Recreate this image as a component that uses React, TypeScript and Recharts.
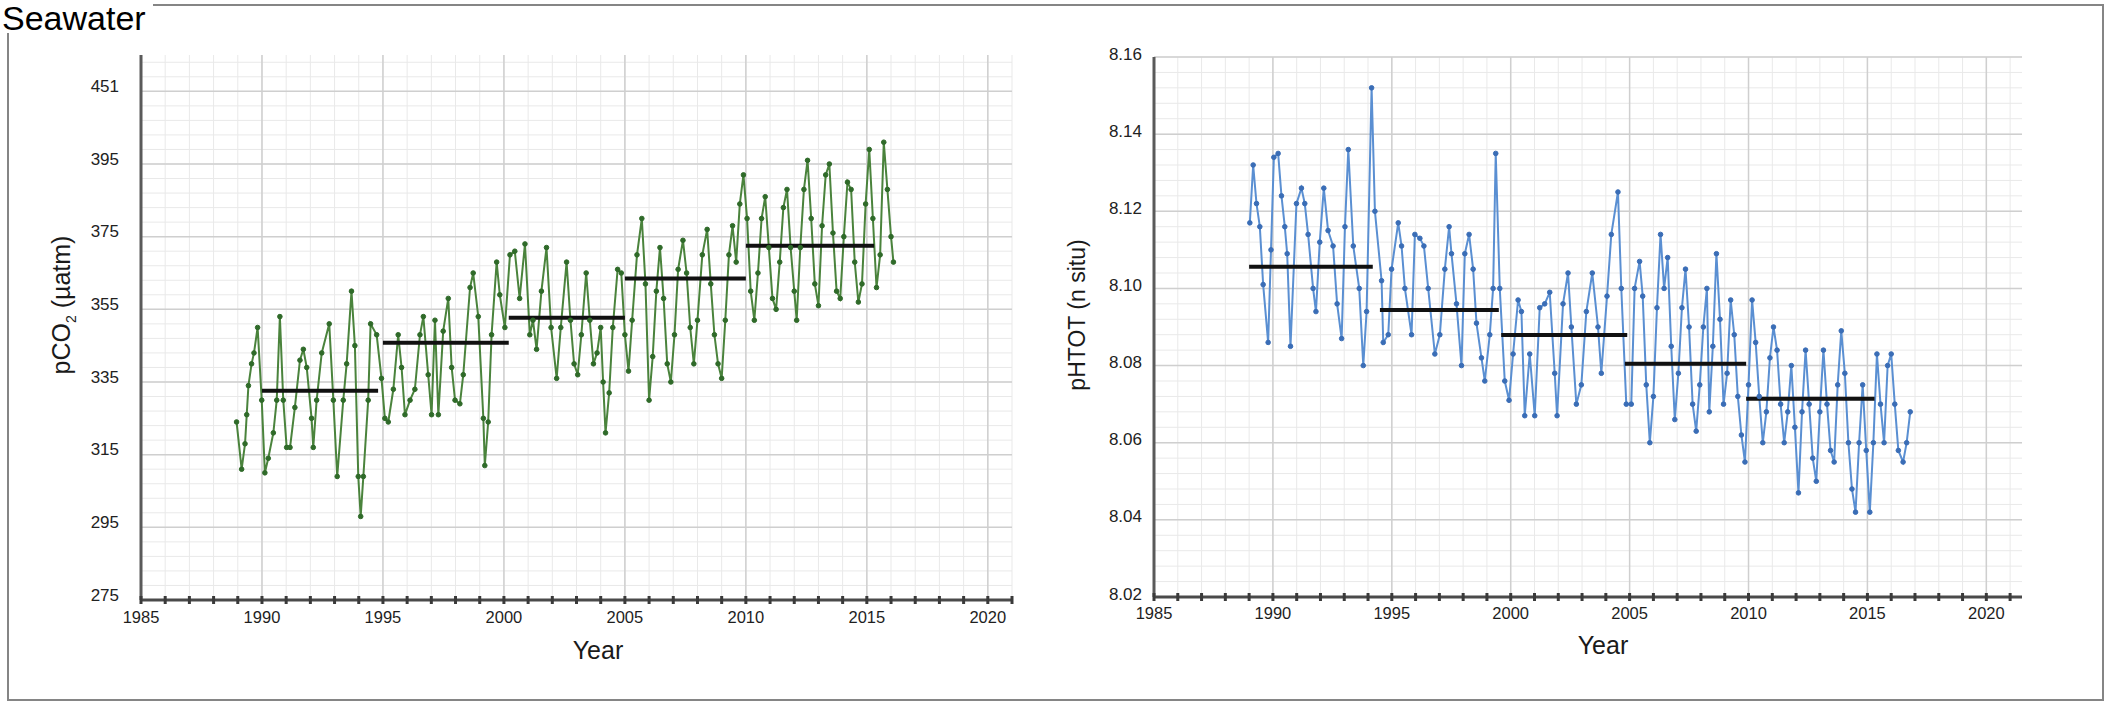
import { LineChart, Line, XAxis, YAxis, CartesianGrid } from "recharts";

// year ticks (every year) and the labelled ones
const yearTicks = Array.from({ length: 37 }, (_, i) => 1985 + i);
const yearLabels = [1985, 1990, 1995, 2000, 2005, 2010, 2015, 2020];

// pCO2 axis: the top tick is printed "451" in the source figure
const pco2Ticks = [275, 295, 315, 335, 355, 375, 395, 415];
const pco2TickLabels = ["275", "295", "315", "335", "355", "375", "395", "451"];
const pco2Minor = Array.from({ length: 38 }, (_, i) => 275 + i * 4);

const phTicks = [8.02, 8.04, 8.06, 8.08, 8.1, 8.12, 8.14, 8.16];
const phTickLabels = ["8.02", "8.04", "8.06", "8.08", "8.10", "8.12", "8.14", "8.16"];
const phMinor = Array.from({ length: 36 }, (_, i) => +(8.02 + i * 0.004).toFixed(3));

// [year, pCO2 µatm]
const pco2Series: [number, number][] = [
  [1988.95, 324], [1989.16, 311], [1989.3, 318], [1989.37, 326], [1989.44, 334], [1989.57, 340],
  [1989.67, 343], [1989.82, 350], [1989.99, 330], [1990.12, 310], [1990.26, 314], [1990.47, 321],
  [1990.61, 330], [1990.74, 353], [1990.88, 330], [1991.02, 317], [1991.16, 317], [1991.36, 328],
  [1991.57, 341], [1991.71, 344], [1991.85, 339], [1992.05, 325], [1992.12, 317], [1992.26, 330],
  [1992.47, 343], [1992.78, 351], [1992.95, 330], [1993.11, 309], [1993.36, 330], [1993.5, 340],
  [1993.7, 360], [1993.84, 345], [1993.98, 309], [1994.08, 298], [1994.19, 309], [1994.39, 330],
  [1994.49, 351], [1994.74, 348], [1994.94, 336], [1995.08, 325], [1995.22, 324], [1995.43, 333],
  [1995.63, 348], [1995.77, 339], [1995.91, 326], [1996.12, 330], [1996.32, 333], [1996.53, 348],
  [1996.67, 353], [1996.87, 337], [1997.01, 326], [1997.15, 352], [1997.29, 326], [1997.49, 349],
  [1997.7, 358], [1997.84, 339], [1997.98, 330], [1998.18, 329], [1998.32, 337], [1998.6, 361],
  [1998.73, 365], [1998.94, 353], [1999.15, 325], [1999.21, 312], [1999.35, 324], [1999.49, 348],
  [1999.7, 368], [1999.83, 359], [2000.04, 350], [2000.25, 370], [2000.45, 371], [2000.65, 358],
  [2000.87, 373], [2001.07, 348], [2001.2, 352], [2001.35, 344], [2001.55, 360], [2001.76, 372],
  [2001.95, 350], [2002.18, 336], [2002.35, 350], [2002.59, 368], [2002.75, 352], [2002.9, 340],
  [2003.05, 337], [2003.2, 348], [2003.4, 365], [2003.55, 352], [2003.7, 340], [2003.85, 343],
  [2004.0, 350], [2004.1, 335], [2004.2, 321], [2004.35, 332], [2004.5, 350], [2004.7, 366],
  [2004.85, 365], [2005.0, 348], [2005.15, 338], [2005.3, 352], [2005.5, 370], [2005.7, 380],
  [2005.85, 362], [2006.0, 330], [2006.15, 342], [2006.3, 360], [2006.45, 372], [2006.6, 358],
  [2006.75, 340], [2006.9, 335], [2007.05, 348], [2007.2, 366], [2007.4, 374], [2007.55, 365],
  [2007.7, 350], [2007.85, 340], [2008.0, 352], [2008.2, 370], [2008.4, 377], [2008.55, 362],
  [2008.7, 348], [2008.85, 340], [2009.0, 336], [2009.15, 352], [2009.3, 370], [2009.45, 378],
  [2009.6, 368], [2009.75, 384], [2009.9, 392], [2010.05, 380], [2010.2, 360], [2010.35, 352],
  [2010.5, 365], [2010.65, 380], [2010.8, 386], [2010.95, 372], [2011.1, 358], [2011.25, 355],
  [2011.4, 368], [2011.55, 383], [2011.7, 388], [2011.85, 372], [2012.0, 360], [2012.1, 352],
  [2012.25, 372], [2012.4, 388], [2012.55, 396], [2012.7, 380], [2012.85, 362], [2013.0, 356],
  [2013.15, 378], [2013.3, 392], [2013.45, 395], [2013.6, 376], [2013.75, 360], [2013.9, 358],
  [2014.05, 375], [2014.2, 390], [2014.35, 388], [2014.5, 368], [2014.65, 357], [2014.8, 362],
  [2014.95, 384], [2015.1, 399], [2015.25, 380], [2015.4, 361], [2015.55, 370], [2015.7, 401],
  [2015.85, 388], [2016.0, 375], [2016.1, 368],
];

// [year, pH total scale in situ]
const phSeries: [number, number][] = [
  [1989.03, 8.117], [1989.17, 8.132], [1989.31, 8.122], [1989.45, 8.116], [1989.59, 8.101],
  [1989.8, 8.086], [1989.92, 8.11], [1990.04, 8.134], [1990.22, 8.135], [1990.36, 8.124],
  [1990.5, 8.116], [1990.6, 8.109], [1990.74, 8.085], [1990.99, 8.122], [1991.2, 8.126],
  [1991.34, 8.122], [1991.48, 8.114], [1991.69, 8.1], [1991.81, 8.094], [1991.97, 8.112],
  [1992.14, 8.126], [1992.32, 8.115], [1992.53, 8.111], [1992.7, 8.096], [1992.89, 8.087],
  [1993.03, 8.116], [1993.17, 8.136], [1993.38, 8.111], [1993.63, 8.1], [1993.8, 8.08],
  [1993.94, 8.094], [1994.15, 8.152], [1994.29, 8.12], [1994.57, 8.102], [1994.64, 8.086],
  [1994.85, 8.088], [1994.99, 8.105], [1995.27, 8.117], [1995.41, 8.111], [1995.55, 8.1],
  [1995.83, 8.088], [1995.97, 8.114], [1996.18, 8.113], [1996.35, 8.111], [1996.53, 8.1],
  [1996.81, 8.083], [1997.02, 8.088], [1997.23, 8.105], [1997.41, 8.116], [1997.51, 8.109],
  [1997.72, 8.096], [1997.93, 8.08], [1998.07, 8.109], [1998.25, 8.114], [1998.42, 8.105],
  [1998.56, 8.091], [1998.77, 8.082], [1998.91, 8.076], [1999.12, 8.088], [1999.26, 8.1],
  [1999.37, 8.135], [1999.54, 8.1], [1999.75, 8.076], [1999.93, 8.071], [2000.1, 8.083],
  [2000.31, 8.097], [2000.45, 8.094], [2000.59, 8.067], [2000.8, 8.083], [2001.01, 8.067],
  [2001.22, 8.095], [2001.43, 8.096], [2001.64, 8.099], [2001.85, 8.078], [2001.95, 8.067],
  [2002.2, 8.096], [2002.41, 8.104], [2002.55, 8.09], [2002.76, 8.07], [2002.97, 8.075],
  [2003.18, 8.094], [2003.43, 8.104], [2003.67, 8.09], [2003.81, 8.078], [2004.05, 8.098],
  [2004.23, 8.114], [2004.51, 8.125], [2004.65, 8.1], [2004.86, 8.07], [2005.07, 8.07],
  [2005.21, 8.1], [2005.42, 8.107], [2005.55, 8.098], [2005.7, 8.075], [2005.85, 8.06],
  [2006.0, 8.072], [2006.15, 8.095], [2006.3, 8.114], [2006.45, 8.1], [2006.6, 8.108],
  [2006.75, 8.085], [2006.9, 8.066], [2007.05, 8.078], [2007.2, 8.095], [2007.35, 8.105],
  [2007.5, 8.09], [2007.65, 8.07], [2007.8, 8.063], [2007.95, 8.075], [2008.1, 8.09],
  [2008.25, 8.1], [2008.35, 8.068], [2008.5, 8.085], [2008.65, 8.109], [2008.8, 8.092],
  [2008.95, 8.07], [2009.1, 8.078], [2009.25, 8.097], [2009.4, 8.088], [2009.55, 8.072],
  [2009.7, 8.062], [2009.85, 8.055], [2010.0, 8.075], [2010.15, 8.097], [2010.3, 8.086],
  [2010.45, 8.072], [2010.6, 8.06], [2010.75, 8.068], [2010.9, 8.082], [2011.05, 8.09],
  [2011.2, 8.084], [2011.35, 8.07], [2011.5, 8.06], [2011.65, 8.068], [2011.8, 8.08],
  [2011.95, 8.064], [2012.1, 8.047], [2012.25, 8.068], [2012.4, 8.084], [2012.55, 8.07],
  [2012.7, 8.056], [2012.85, 8.05], [2013.0, 8.068], [2013.15, 8.084], [2013.3, 8.07],
  [2013.45, 8.058], [2013.6, 8.055], [2013.75, 8.075], [2013.9, 8.089], [2014.05, 8.078],
  [2014.2, 8.06], [2014.35, 8.048], [2014.5, 8.042], [2014.65, 8.06], [2014.8, 8.075],
  [2014.95, 8.058], [2015.1, 8.042], [2015.25, 8.06], [2015.4, 8.083], [2015.55, 8.07],
  [2015.7, 8.06], [2015.85, 8.08], [2016.0, 8.083], [2016.15, 8.07], [2016.3, 8.058],
  [2016.5, 8.055], [2016.65, 8.06], [2016.8, 8.068],
];

// five-year means: [from, to, value]
const pco2Means: [number, number, number][] = [
  [1990, 1994.8, 332.6], [1995, 2000.2, 345.8], [2000.2, 2005, 352.7], [2005, 2010, 363.5], [2010, 2015.3, 372.5],
];
const phMeans: [number, number, number][] = [
  [1989, 1994.2, 8.1056], [1994.5, 1999.5, 8.0944], [1999.6, 2004.9, 8.0879], [2004.8, 2009.9, 8.0805], [2009.9, 2015.3, 8.0714],
];

const FONT = '"Liberation Sans", Arial, Helvetica, sans-serif';

interface PanelProps {
  left: number;
  width: number;
  margin: { top: number; right: number; bottom: number; left: number };
  series: [number, number][];
  means: [number, number, number][];
  xMax: number;
  yDomain: [number, number];
  yTicks: number[];
  yLabels: string[];
  yMinor: number[];
  yLabelGap: number;
  yLabelDy: number;
  xLabelDy: number;
  lineColor: string;
  dotColor: string;
}

function Panel(p: PanelProps) {
  const data = p.series.map(([year, value]) => ({ year, value }));

  const xTick = (props: any) => {
    const { x, y, payload } = props;
    const yr = payload.value;
    return (
      <g>
        <line x1={x} x2={x} y1={y - 4} y2={y + 4} stroke="#3a3a3a" strokeWidth={3} />
        {yearLabels.includes(yr) && (
          <text x={x} y={y + p.xLabelDy} textAnchor="middle" dominantBaseline="central"
            fontSize={16.5} fontFamily={FONT} fill="#1e1e1e">
            {yr}
          </text>
        )}
      </g>
    );
  };

  const yTick = (props: any) => {
    const { x, y, payload } = props;
    const i = p.yTicks.findIndex((t) => Math.abs(t - payload.value) < 1e-6);
    return (
      <text x={x} y={y + p.yLabelDy} textAnchor="end" dominantBaseline="central"
        fontSize={17} fontFamily={FONT} fill="#222">
        {i >= 0 ? p.yLabels[i] : ""}
      </text>
    );
  };

  return (
    <div style={{ position: "absolute", left: p.left, top: 0 }}>
      <LineChart width={p.width} height={703} data={data} margin={p.margin}>
        <CartesianGrid stroke="#e9e9e9" strokeWidth={1} verticalValues={yearTicks} horizontalValues={p.yMinor} />
        <CartesianGrid stroke="#cfcfcf" strokeWidth={1.5} verticalValues={yearLabels} horizontalValues={p.yTicks} />
        <XAxis
          type="number" dataKey="year" domain={[1985, p.xMax]} ticks={yearTicks} interval={0}
          allowDataOverflow height={30} tickSize={0} tickMargin={0} tick={xTick}
          axisLine={{ stroke: "#4a4a4a", strokeWidth: 3 }} tickLine={false}
        />
        <YAxis
          type="number" domain={p.yDomain} ticks={p.yTicks} interval={0} allowDataOverflow
          width={80} tickSize={0} tickMargin={p.yLabelGap} tick={yTick}
          axisLine={{ stroke: "#5a5a5a", strokeWidth: 3 }} tickLine={false}
        />
        <Line
          type="linear" dataKey="value" stroke={p.lineColor} strokeWidth={2}
          dot={{ r: 2.3, fill: p.dotColor, stroke: p.dotColor, strokeWidth: 1 }}
          isAnimationActive={false}
        />
        {p.means.map(([x0, x1, v], i) => (
          <Line
            key={i} data={[{ year: x0, value: v }, { year: x1, value: v }]} dataKey="value"
            type="linear" stroke="#111" strokeWidth={4} dot={false} isAnimationActive={false}
          />
        ))}
      </LineChart>
    </div>
  );
}

const textBase: React.CSSProperties = {
  position: "absolute", fontFamily: FONT, color: "#1a1a1a", whiteSpace: "nowrap", lineHeight: 1,
};

export default function App() {
  return (
    <div style={{ position: "absolute", left: 0, top: 0, width: 2107, height: 703, background: "#fff", overflow: "hidden" }}>
      <div style={{ position: "absolute", left: 7, top: 4, width: 2097, height: 697, border: "2px solid #858585", boxSizing: "border-box" }} />

      <Panel
        left={0} width={1040} margin={{ top: 55, right: 28, bottom: 73, left: 61 }}
        series={pco2Series} means={pco2Means} xMax={2021}
        yDomain={[275, 425]} yTicks={pco2Ticks} yLabels={pco2TickLabels} yMinor={pco2Minor}
        yLabelGap={22} yLabelDy={-5} xLabelDy={17}
        lineColor="#4a833c" dotColor="#2f6a29"
      />
      <Panel
        left={1040} width={1067} margin={{ top: 57, right: 85, bottom: 76, left: 34 }}
        series={phSeries} means={phMeans} xMax={2021.5}
        yDomain={[8.02, 8.16]} yTicks={phTicks} yLabels={phTickLabels} yMinor={phMinor}
        yLabelGap={12} yLabelDy={-3} xLabelDy={16}
        lineColor="#5a8fd2" dotColor="#3a6db6"
      />

      <div style={{ ...textBase, left: 63, top: 305, fontSize: 25, transform: "translate(-50%, -50%) rotate(-90deg)" }}>
        pCO<sub style={{ fontSize: 14 }}>2</sub> (µatm)
      </div>
      <div style={{ ...textBase, left: 1077, top: 315, fontSize: 23, transform: "translate(-50%, -50%) rotate(-90deg)" }}>
        pHTOT (n situ)
      </div>
      <div style={{ ...textBase, left: 598, top: 650, fontSize: 25, transform: "translate(-50%, -50%)" }}>Year</div>
      <div style={{ ...textBase, left: 1603, top: 645, fontSize: 25, transform: "translate(-50%, -50%)" }}>Year</div>

      <div style={{ ...textBase, left: 0, top: 0, fontSize: 34, color: "#000", background: "#fff", paddingLeft: 2, paddingRight: 7, paddingTop: 1, height: 33, boxSizing: "border-box" }}>
        Seawater
      </div>
    </div>
  );
}
